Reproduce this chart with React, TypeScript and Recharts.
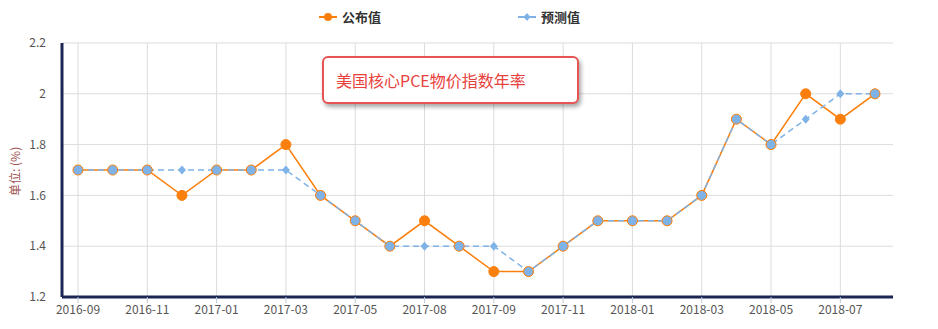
import React from "react";
import {
  LineChart,
  Line,
  XAxis,
  YAxis,
  CartesianGrid,
} from "recharts";

// months (the source repeats labels a bit oddly around mid-2017)
const months = [
  "2016-09", "2016-10", "2016-11", "2016-12", "2017-01", "2017-02",
  "2017-03", "2017-04", "2017-05", "2017-06", "2017-08", "2017-08",
  "2017-09", "2017-10", "2017-11", "2017-12", "2018-01", "2018-02",
  "2018-03", "2018-04", "2018-05", "2018-06", "2018-07", "2018-08",
];
const actual = [
  1.7, 1.7, 1.7, 1.6, 1.7, 1.7, 1.8, 1.6, 1.5, 1.4, 1.5, 1.4,
  1.3, 1.3, 1.4, 1.5, 1.5, 1.5, 1.6, 1.9, 1.8, 2.0, 1.9, 2.0,
];
const forecast = [
  1.7, 1.7, 1.7, 1.7, 1.7, 1.7, 1.7, 1.6, 1.5, 1.4, 1.4, 1.4,
  1.4, 1.3, 1.4, 1.5, 1.5, 1.5, 1.6, 1.9, 1.8, 1.9, 2.0, 2.0,
];
const yTicks = [1.2, 1.4, 1.6, 1.8, 2, 2.2];

const data = months.map((m, i) => ({
  month: m,
  actual: actual[i],
  forecast: forecast[i],
}));

const ORANGE = "#fb7f0c";
const BLUE = "#7fb3e8";
const AXIS = "#1c2654";
const FONT = '"Microsoft YaHei", "Noto Sans CJK SC", sans-serif';
const X_PAD = { left: 16, right: 18 };

// vertical grid only on the labelled (every other) month
const gridX = (props: any) => {
  const s = props.xAxis && props.xAxis.scale;
  let fn: any = null;
  if (typeof s === "function") fn = s;
  else if (s && typeof s.map === "function") fn = (v: any) => s.map(v);
  const out: number[] = [];
  months.forEach((m, i) => {
    if (i % 2 !== 0) return;
    let v: any = undefined;
    try {
      if (fn) {
        v = fn(m);
        if (v == null || isNaN(v)) v = fn(i);
      }
    } catch (e) {
      v = undefined;
    }
    if (v == null || isNaN(v)) {
      // fall back to the point-scale layout of the x axis
      const o = props.offset;
      const start = o.left + X_PAD.left;
      const end = o.left + o.width - X_PAD.right;
      v = start + ((end - start) * i) / (months.length - 1);
    }
    out.push(v);
  });
  return out;
};

const ForecastDot = (props: any) => {
  const { cx, cy, payload } = props;
  if (cx == null || cy == null) return null;
  if (payload.actual === payload.forecast) {
    return <circle cx={cx} cy={cy} r={4.5} fill={BLUE} stroke="none" />;
  }
  return (
    <path
      d={`M${cx},${cy - 4.5}L${cx + 4},${cy}L${cx},${cy + 4.5}L${cx - 4},${cy}Z`}
      fill={BLUE}
    />
  );
};

const LegendBar = () => (
  <div style={{ position: "absolute", left: 0, top: 0, width: 938, height: 30, fontFamily: FONT }}>
    <div style={{ position: "absolute", left: 319, top: 7, display: "flex", alignItems: "center" }}>
      <svg width={18} height={12}>
        <line x1={0} y1={6} x2={18} y2={6} stroke={ORANGE} strokeWidth={2} />
        <circle cx={9} cy={6} r={4} fill={ORANGE} />
      </svg>
      <span style={{ marginLeft: 5, fontSize: 13, fontWeight: "bold", color: "#333" }}>公布值</span>
    </div>
    <div style={{ position: "absolute", left: 518, top: 7, display: "flex", alignItems: "center" }}>
      <svg width={18} height={12}>
        <line x1={0} y1={6} x2={18} y2={6} stroke={BLUE} strokeWidth={2} />
        <path d="M9,2L12.5,6L9,10L5.5,6Z" fill={BLUE} />
      </svg>
      <span style={{ marginLeft: 5, fontSize: 13, fontWeight: "bold", color: "#333" }}>预测值</span>
    </div>
  </div>
);

const App = () => {
  return (
    <div style={{ position: "absolute", left: 0, top: 0, width: 938, height: 329, background: "#fff" }}>
      <LineChart
        width={938}
        height={329}
        data={data}
        margin={{ top: 43, right: 45, left: 0, bottom: 0 }}
      >
        <CartesianGrid stroke="#dcdcdc" strokeWidth={1} verticalCoordinatesGenerator={gridX} />
        <XAxis
          dataKey="month"
          interval={1}
          height={32}
          padding={X_PAD}
          axisLine={{ stroke: AXIS, strokeWidth: 3 }}
          tickLine={{ stroke: "#b9c9dc" }}
          tickSize={6}
          tick={{ fontSize: 12, fill: "#555", fontFamily: FONT }}
        />
        <YAxis
          domain={[1.2, 2.2]}
          ticks={yTicks}
          width={62}
          axisLine={{ stroke: AXIS, strokeWidth: 3 }}
          tickLine={false}
          tickMargin={10}
          tick={{ fontSize: 12, fill: "#555", fontFamily: FONT }}
          label={{
            value: "单位: (%)",
            angle: -90,
            position: "insideLeft",
            offset: 16,
            dy: 26,
            style: { fontSize: 12, fill: "#a0524f", fontFamily: FONT },
          }}
        />
        <Line
          dataKey="actual"
          name="公布值"
          stroke={ORANGE}
          strokeWidth={1.5}
          dot={{ r: 5, fill: ORANGE, stroke: ORANGE, strokeWidth: 1 }}
          activeDot={false}
          isAnimationActive={false}
        />
        <Line
          dataKey="forecast"
          name="预测值"
          stroke={BLUE}
          strokeWidth={1.5}
          strokeDasharray="6 4"
          dot={<ForecastDot />}
          activeDot={false}
          isAnimationActive={false}
        />
      </LineChart>
      <LegendBar />
      {/* title box */}
      <div
        style={{
          position: "absolute",
          left: 322,
          top: 56,
          width: 241,
          height: 44,
          border: "2px solid #e85454",
          borderRadius: 6,
          background: "#fff",
          boxShadow: "2px 3px 4px rgba(0,0,0,0.35)",
          fontFamily: FONT,
          fontSize: 16,
          color: "#e8413c",
          lineHeight: "44px",
          paddingLeft: 12,
          boxSizing: "content-box",
        }}
      >
        美国核心PCE物价指数年率
      </div>
    </div>
  );
};

export default App;
